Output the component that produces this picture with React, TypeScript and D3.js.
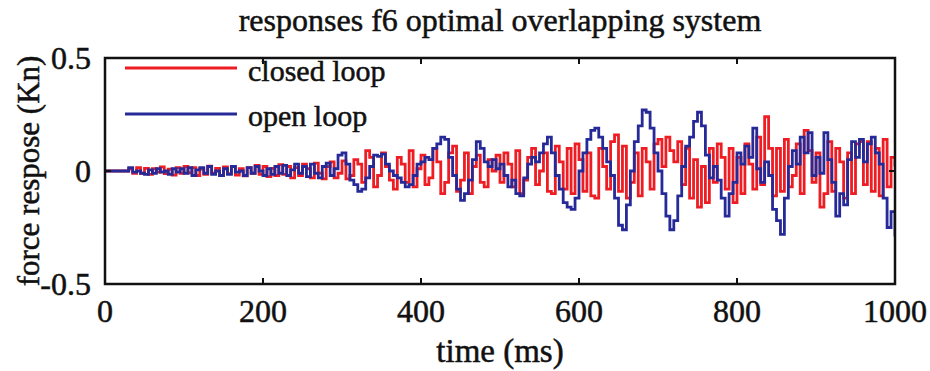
import React from 'react';
import * as d3 from 'd3';

const timeStep = 5;

const closedLoop = [
  0, 0, 0, 0, 0, 0, 0.01, -0.01, 0.015, -0.01,
  0.012, -0.015, 0.01, -0.005, 0.018, -0.012, 0.008, -0.018, 0.015, -0.01,
  0.02, -0.008, 0.015, -0.02, 0.01, -0.015, 0.022, -0.01, 0.012, -0.02,
  0.018, -0.012, 0.02, -0.018, 0.01, -0.022, 0.015, -0.01, 0.025, -0.015,
  0.02, -0.025, 0.012, -0.02, 0.028, -0.015, 0.02, -0.03, 0.015, -0.02,
  0.03, 0.01, -0.03, 0.035, -0.01, -0.035, 0.02, 0.04, -0.03, -0.01,
  0.045, -0.035, -0.02, 0.05, 0.03, -0.05, 0.09, 0.06, -0.07, -0.02,
  0.08, 0.02, -0.04, -0.08, 0.06, 0.03, -0.05, 0.09, -0.07, 0.01,
  0.07, -0.06, -0.03, 0.1, 0.04, -0.1, -0.05, 0.08, 0.11, -0.09,
  -0.04, 0.08, -0.1, 0.02, 0.07, -0.05, -0.07, 0.05, 0.0, 0.07,
  -0.05, 0.08, 0.03, -0.07, 0.09, -0.1, -0.04, 0.06, 0.1, -0.06,
  0.0, 0.08, -0.09, -0.1, 0.11, 0.04, -0.08, 0.1, -0.1, 0.12,
  0.05, -0.09, 0.08, -0.11, -0.12, 0.1, 0.02, -0.08, 0.13, 0.16,
  -0.09, 0.11, -0.12, -0.05, 0.08, -0.11, 0.1, 0.04, -0.08, 0.12,
  0.14, 0.02, 0.15, 0.09, 0.04, 0.13, -0.06, 0.1, -0.12, 0.05,
  -0.16, 0.02, -0.14, 0.1, -0.05, 0.12, 0.06, -0.08, 0.1, -0.14,
  0.06, -0.1, 0.12, 0.03, -0.08, 0.15, -0.06, 0.24, 0.1, -0.11,
  0.1, -0.09, 0.14, -0.07, -0.02, 0.12, -0.1, 0.18, 0.09, -0.05,
  0.08, -0.16, -0.1, 0.13, -0.09, 0.1, 0.04, -0.12, 0.08, -0.1,
  0.12, 0.13, -0.06, 0.13, -0.09, 0.1, -0.11, 0.14, -0.07, 0.06,
  0.02,
];

const openLoop = [
  0, 0, 0, 0, 0, 0, 0.015, -0.005, 0.0, -0.01,
  -0.015, 0.005, -0.01, 0.01, -0.005, 0.0, -0.015, 0.01, -0.005, 0.01,
  -0.01, 0.015, -0.02, 0.005, 0.015, -0.01, 0.02, -0.015, 0.0, -0.02,
  0.01, -0.015, 0.02, -0.005, 0.0, -0.02, 0.015, -0.01, 0.02, 0.0,
  -0.02, 0.01, -0.015, 0.02, -0.01, 0.025, -0.02, 0.005, 0.03, -0.01,
  0.02, -0.025, 0.03, -0.01, -0.03, 0.02, 0.035, -0.02, 0.01, 0.07,
  0.08, 0.03, -0.04, -0.06, -0.09, -0.08, -0.03, 0.02, 0.07, 0.065,
  0.075, 0.03, 0.0, -0.02, -0.03, -0.05, -0.07, -0.06, -0.02, 0.03,
  0.04, 0.06, 0.05, 0.1, 0.12, 0.15, 0.14, 0.06, -0.02, -0.08,
  -0.13, -0.1, -0.04, 0.05, 0.13, 0.1, 0.04, 0.02, 0.05, 0.01,
  0.03, -0.02, -0.07, -0.04, -0.1, -0.11, -0.03, 0.03, 0.06, 0.04,
  0.08, 0.12, 0.15, 0.08, -0.02, -0.08, -0.14, -0.16, -0.17, -0.12,
  0.0, 0.08, 0.14, 0.18, 0.19, 0.15, 0.1, 0.04, -0.02, -0.12,
  -0.24, -0.26, -0.15, 0.0, 0.13, 0.2, 0.27, 0.26, 0.19, 0.08,
  0.0, -0.1, -0.2, -0.26, -0.22, -0.11, 0.02, 0.11, 0.15, 0.22,
  0.26, 0.2, 0.07, -0.03, 0.02, -0.04, -0.12, -0.2, -0.1, -0.05,
  0.08, 0.03, 0.11, 0.06, 0.19, 0.01, -0.05, 0.04, -0.02, -0.17,
  -0.22, -0.28, -0.12, 0.02, 0.09, 0.03, 0.15, 0.08, 0.17, -0.02,
  0.06, -0.01, 0.17, 0.05, -0.05, -0.2, -0.1, -0.15, 0.05, 0.13,
  0.06, 0.14, 0.04, 0.12, 0.15, 0.08, 0.03, -0.12, -0.25, -0.18,
  -0.29,
];

const xTicks = [0, 200, 400, 600, 800, 1000];
const yTicks = [-0.5, 0, 0.5];
const yTickLabels = ['-0.5', '0', '0.5'];
const legendItems = [
  { label: 'closed loop', color: '#ee1d23' },
  { label: 'open loop', color: '#262a98' },
];

const W = 930;
const H = 371;
const margin = { top: 58, right: 35, bottom: 87, left: 105 };

export default function App() {
  const x = d3.scaleLinear().domain([0, 1000]).range([margin.left, W - margin.right]);
  const y = d3.scaleLinear().domain([-0.5, 0.5]).range([H - margin.bottom, margin.top]);

  const line = d3.line<number>()
    .x((_, i) => x(i * timeStep))
    .y(d => y(d))
    .curve(d3.curveStepAfter);

  const x0 = x(0), x1 = x(1000), y0 = y(0.5), y1 = y(-0.5);
  const txt = {
    fill: '#111', stroke: '#111', strokeWidth: 0.5,
    style: { fontFamily: "'Liberation Serif', 'DejaVu Serif', 'Times New Roman', serif" },
  };

  return (
    <svg width={W} height={H} style={{ position: 'absolute', left: 0, top: 0, background: '#fff' }}>
      <text x={(x0 + x1) / 2} y={31} textAnchor="middle" fontSize={32} {...txt}>
        responses f6 optimal overlapping system
      </text>

      <defs>
        <clipPath id="plot">
          <rect x={x0} y={y0} width={x1 - x0} height={y1 - y0} />
        </clipPath>
      </defs>

      <g clipPath="url(#plot)" fill="none">
        <path d={line(closedLoop) || ''} stroke={legendItems[0].color} strokeWidth={2.8} />
        <path d={line(openLoop) || ''} stroke={legendItems[1].color} strokeWidth={2.8} />
      </g>

      {/* legend */}
      {legendItems.map((d, i) => (
        <g key={d.label}>
          <line x1={125} x2={237} y1={68 + i * 46} y2={68 + i * 46} stroke={d.color} strokeWidth={3} />
          <text x={248} y={81 + i * 45} fontSize={30} {...txt}>{d.label}</text>
        </g>
      ))}

      {/* frame and ticks */}
      <rect x={x0} y={y0} width={x1 - x0} height={y1 - y0} fill="none" stroke="#111" strokeWidth={2.5} />
      {xTicks.map(t => (
        <g key={t}>
          <line x1={x(t)} x2={x(t)} y1={y1} y2={y1 - 6} stroke="#111" strokeWidth={2} />
          <line x1={x(t)} x2={x(t)} y1={y0} y2={y0 + 6} stroke="#111" strokeWidth={2} />
          <text x={x(t)} y={322} textAnchor="middle" fontSize={32} {...txt}>{t}</text>
        </g>
      ))}
      {yTicks.map((t, i) => (
        <g key={t}>
          <line x1={x0} x2={x0 + 6} y1={y(t)} y2={y(t)} stroke="#111" strokeWidth={2} />
          <line x1={x1} x2={x1 - 6} y1={y(t)} y2={y(t)} stroke="#111" strokeWidth={2} />
          <text x={91} y={y(t) + 11} textAnchor="end" fontSize={32} {...txt}>{yTickLabels[i]}</text>
        </g>
      ))}

      <text x={(x0 + x1) / 2} y={362} textAnchor="middle" fontSize={33} {...txt}>time (ms)</text>
      <text transform={`translate(39,${(y0 + y1) / 2}) rotate(-90)`} textAnchor="middle" fontSize={31} {...txt}>
        force respose (Kn)
      </text>
    </svg>
  );
}
